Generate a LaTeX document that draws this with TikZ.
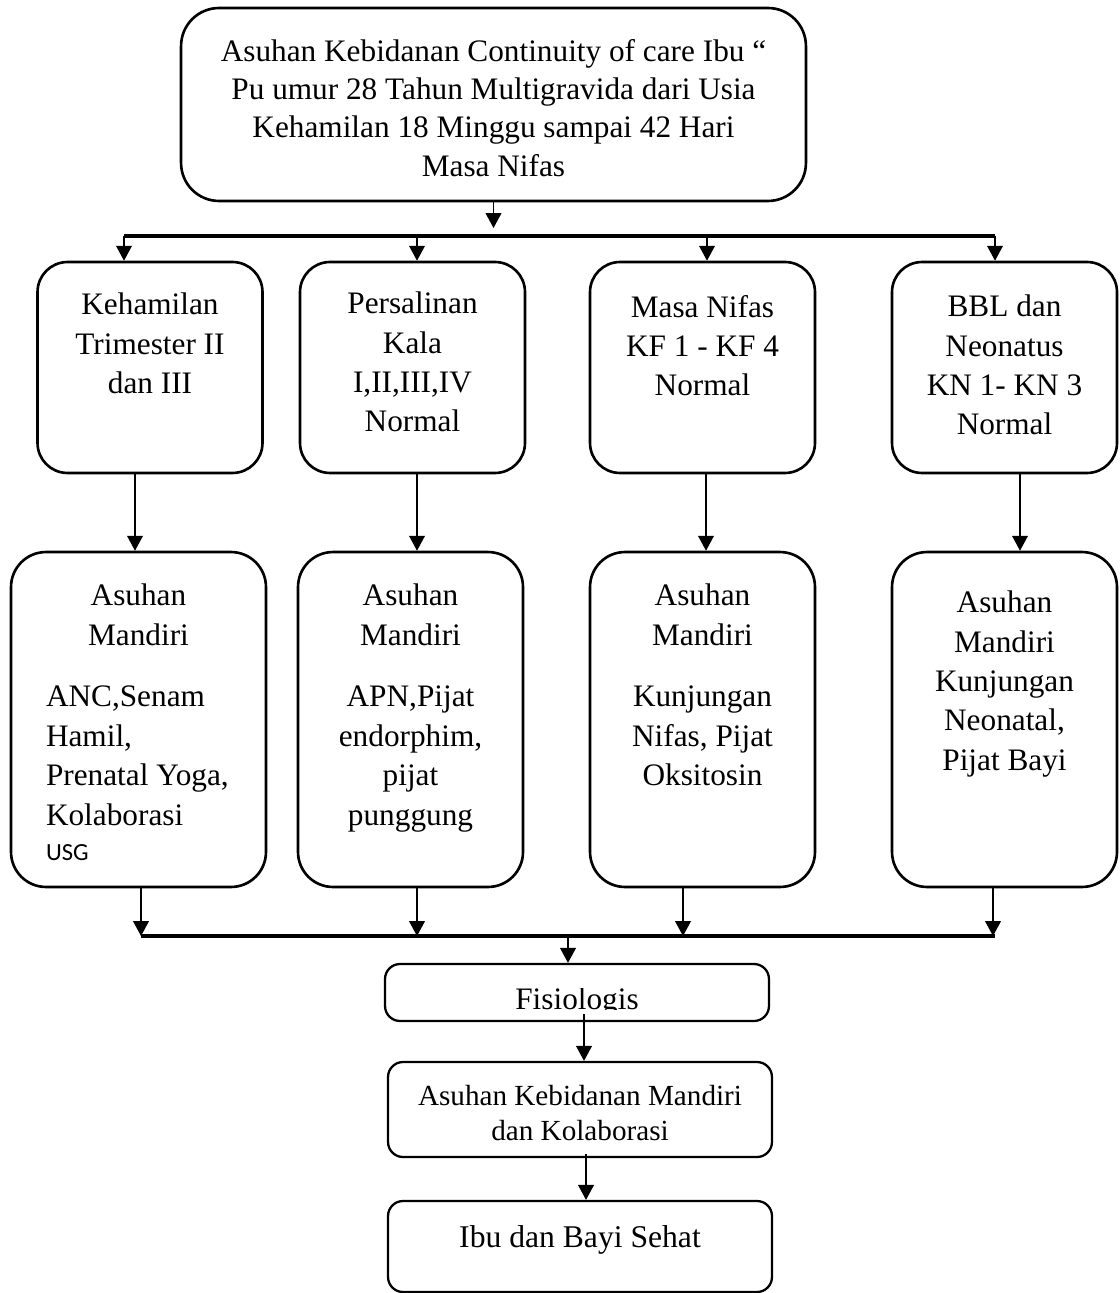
\documentclass[tikz,border=0pt]{standalone}
\usepackage{fontspec}
\setmainfont{Liberation Serif}
\newfontfamily\usgfont{Carlito}
\usepackage{trimclip}
\usetikzlibrary{arrows.meta, positioning}

% text block pinned to the top of a box of fixed size
\newcommand{\cellbox}[4]{\parbox[c][#2][t]{#1}{\vspace*{#3}#4}}

\tikzset{
	topbox/.style={draw, line width=1.5pt, rounded corners=0.76cm, inner sep=0pt},
	phase/.style={draw, line width=1.5pt, rounded corners=0.6cm, inner sep=0pt},
	care/.style={draw, line width=1.5pt, rounded corners=0.7cm, inner sep=0pt},
	result/.style={draw, line width=1.3pt, rounded corners=0.3cm, inner sep=0pt},
	bus/.style={line width=2.1pt},
}

\begin{document}
\begin{tikzpicture}[x=0.02cm, y=-0.02cm, font=\fontsize{17.8pt}{22.4pt}\selectfont]
	\useasboundingbox (0,0) rectangle (1119,1293);
	
	\node (top) [topbox] at (493.5,104.5) {\cellbox{12.5cm}{3.86cm}{0.62cm}{\centering\fontsize{17.8pt}{21.9pt}\selectfont
			Asuhan Kebidanan Continuity of care Ibu “\\Pu umur 28 Tahun Multigravida dari Usia\\Kehamilan 18 Minggu sampai 42 Hari\\Masa Nifas}};
	
	\node (k1) [phase] at (150,367.5) {\cellbox{4.5cm}{4.22cm}{0.62cm}{\centering Kehamilan\\Trimester II\\dan III}};
	\node (k2) [phase] at (412.5,367.5) {\cellbox{4.5cm}{4.22cm}{0.6cm}{\centering Persalinan\\Kala\\I,II,III,IV\\Normal}};
	\node (k3) [phase] at (702.5,367.5) {\cellbox{4.5cm}{4.22cm}{0.66cm}{\centering Masa Nifas\\KF 1 - KF 4\\Normal}};
	\node (k4) [phase] at (1004.5,367.5) {\cellbox{4.5cm}{4.22cm}{0.66cm}{\centering BBL dan\\Neonatus\\KN 1- KN 3\\Normal}};
	
	\node (a1) [care] at (138.5,719.5) {\cellbox{5.1cm}{6.7cm}{0.64cm}{\centering Asuhan\\Mandiri\par\vspace{0.45cm}
			\raggedright\leftskip=0.7cm ANC,Senam\\Hamil,\\Prenatal Yoga,\\Kolaborasi\par
			\usgfont\fontsize{14pt}{20.4pt}\selectfont USG\par}};
	\node (a2) [care] at (410.5,719.5) {\cellbox{4.5cm}{6.7cm}{0.64cm}{\centering Asuhan\\Mandiri\par\vspace{0.45cm}APN,Pijat\\endorphim,\\pijat\\punggung}};
	\node (a3) [care] at (702.5,719.5) {\cellbox{4.5cm}{6.7cm}{0.64cm}{\centering Asuhan\\Mandiri\par\vspace{0.45cm}Kunjungan\\Nifas, Pijat\\Oksitosin}};
	\node (a4) [care] at (1004.5,719.5) {\cellbox{4.5cm}{6.7cm}{0.78cm}{\centering Asuhan\\Mandiri\\Kunjungan\\Neonatal,\\Pijat Bayi}};
	
	\node (fis) [result] at (577,992.5) {\cellbox{7.68cm}{1.14cm}{0.48cm}{\centering\clipbox{0pt {\depth} 0pt 0pt}{Fisiologis}}};
	\node (kol) [result] at (580,1109.5) {\cellbox{7.68cm}{1.9cm}{0.46cm}{\centering\fontsize{16.6pt}{19.8pt}\selectfont Asuhan Kebidanan Mandiri\\dan Kolaborasi}};
	\node (sehat) [result] at (580,1246.5) {\cellbox{7.68cm}{1.82cm}{0.49cm}{\centering\fontsize{18pt}{21pt}\selectfont Ibu dan Bayi Sehat}};
	
	\coordinate (topin) at (494,228);
	\coordinate (busA) at (494,236);
	\coordinate (busB) at (568,936);
	
	\draw[bus] ([xshift=-0.52cm]k1.north |- busA) -- ([xshift=-0.19cm]k4.north |- busA);
	\draw[bus] ([xshift=0.05cm]a1.south |- busB) -- ([xshift=-0.19cm]a4.south |- busB);
	
	\begin{scope}[line width=0.7pt, black, ->, >={Triangle[length=8.5pt, width=9pt]}]
		\draw (top.south) -- (top.south |- topin);
		
		\draw ([xshift=-0.52cm]k1.north |- busA) -- ([xshift=-0.52cm]k1.north);
		\draw ([xshift=0.09cm]k2.north |- busA) -- ([xshift=0.09cm]k2.north);
		\draw ([xshift=0.09cm]k3.north |- busA) -- ([xshift=0.09cm]k3.north);
		\draw ([xshift=-0.19cm]k4.north |- busA) -- ([xshift=-0.19cm]k4.north);
		
		\draw ([xshift=-0.3cm]k1.south) -- ([xshift=-0.3cm]k1.south |- a1.north);
		\draw ([xshift=0.09cm]k2.south) -- ([xshift=0.09cm]k2.south |- a2.north);
		\draw ([xshift=0.07cm]k3.south) -- ([xshift=0.07cm]k3.south |- a3.north);
		\draw ([xshift=0.31cm]k4.south) -- ([xshift=0.31cm]k4.south |- a4.north);
		
		\draw ([xshift=0.05cm]a1.south) -- ([xshift=0.05cm]a1.south |- busB);
		\draw ([xshift=0.13cm]a2.south) -- ([xshift=0.13cm]a2.south |- busB);
		\draw ([xshift=-0.39cm]a3.south) -- ([xshift=-0.39cm]a3.south |- busB);
		\draw ([xshift=-0.23cm]a4.south) -- ([xshift=-0.23cm]a4.south |- busB);
		
		\draw (busB) -- (busB |- fis.north);
		\draw ([xshift=0.14cm, yshift=0.16cm]fis.south) -- ([xshift=0.14cm]fis.south |- kol.north);
		\draw ([xshift=0.12cm, yshift=0.08cm]kol.south) -- ([xshift=0.12cm]kol.south |- sehat.north);
	\end{scope}
	
\end{tikzpicture}
\end{document}
